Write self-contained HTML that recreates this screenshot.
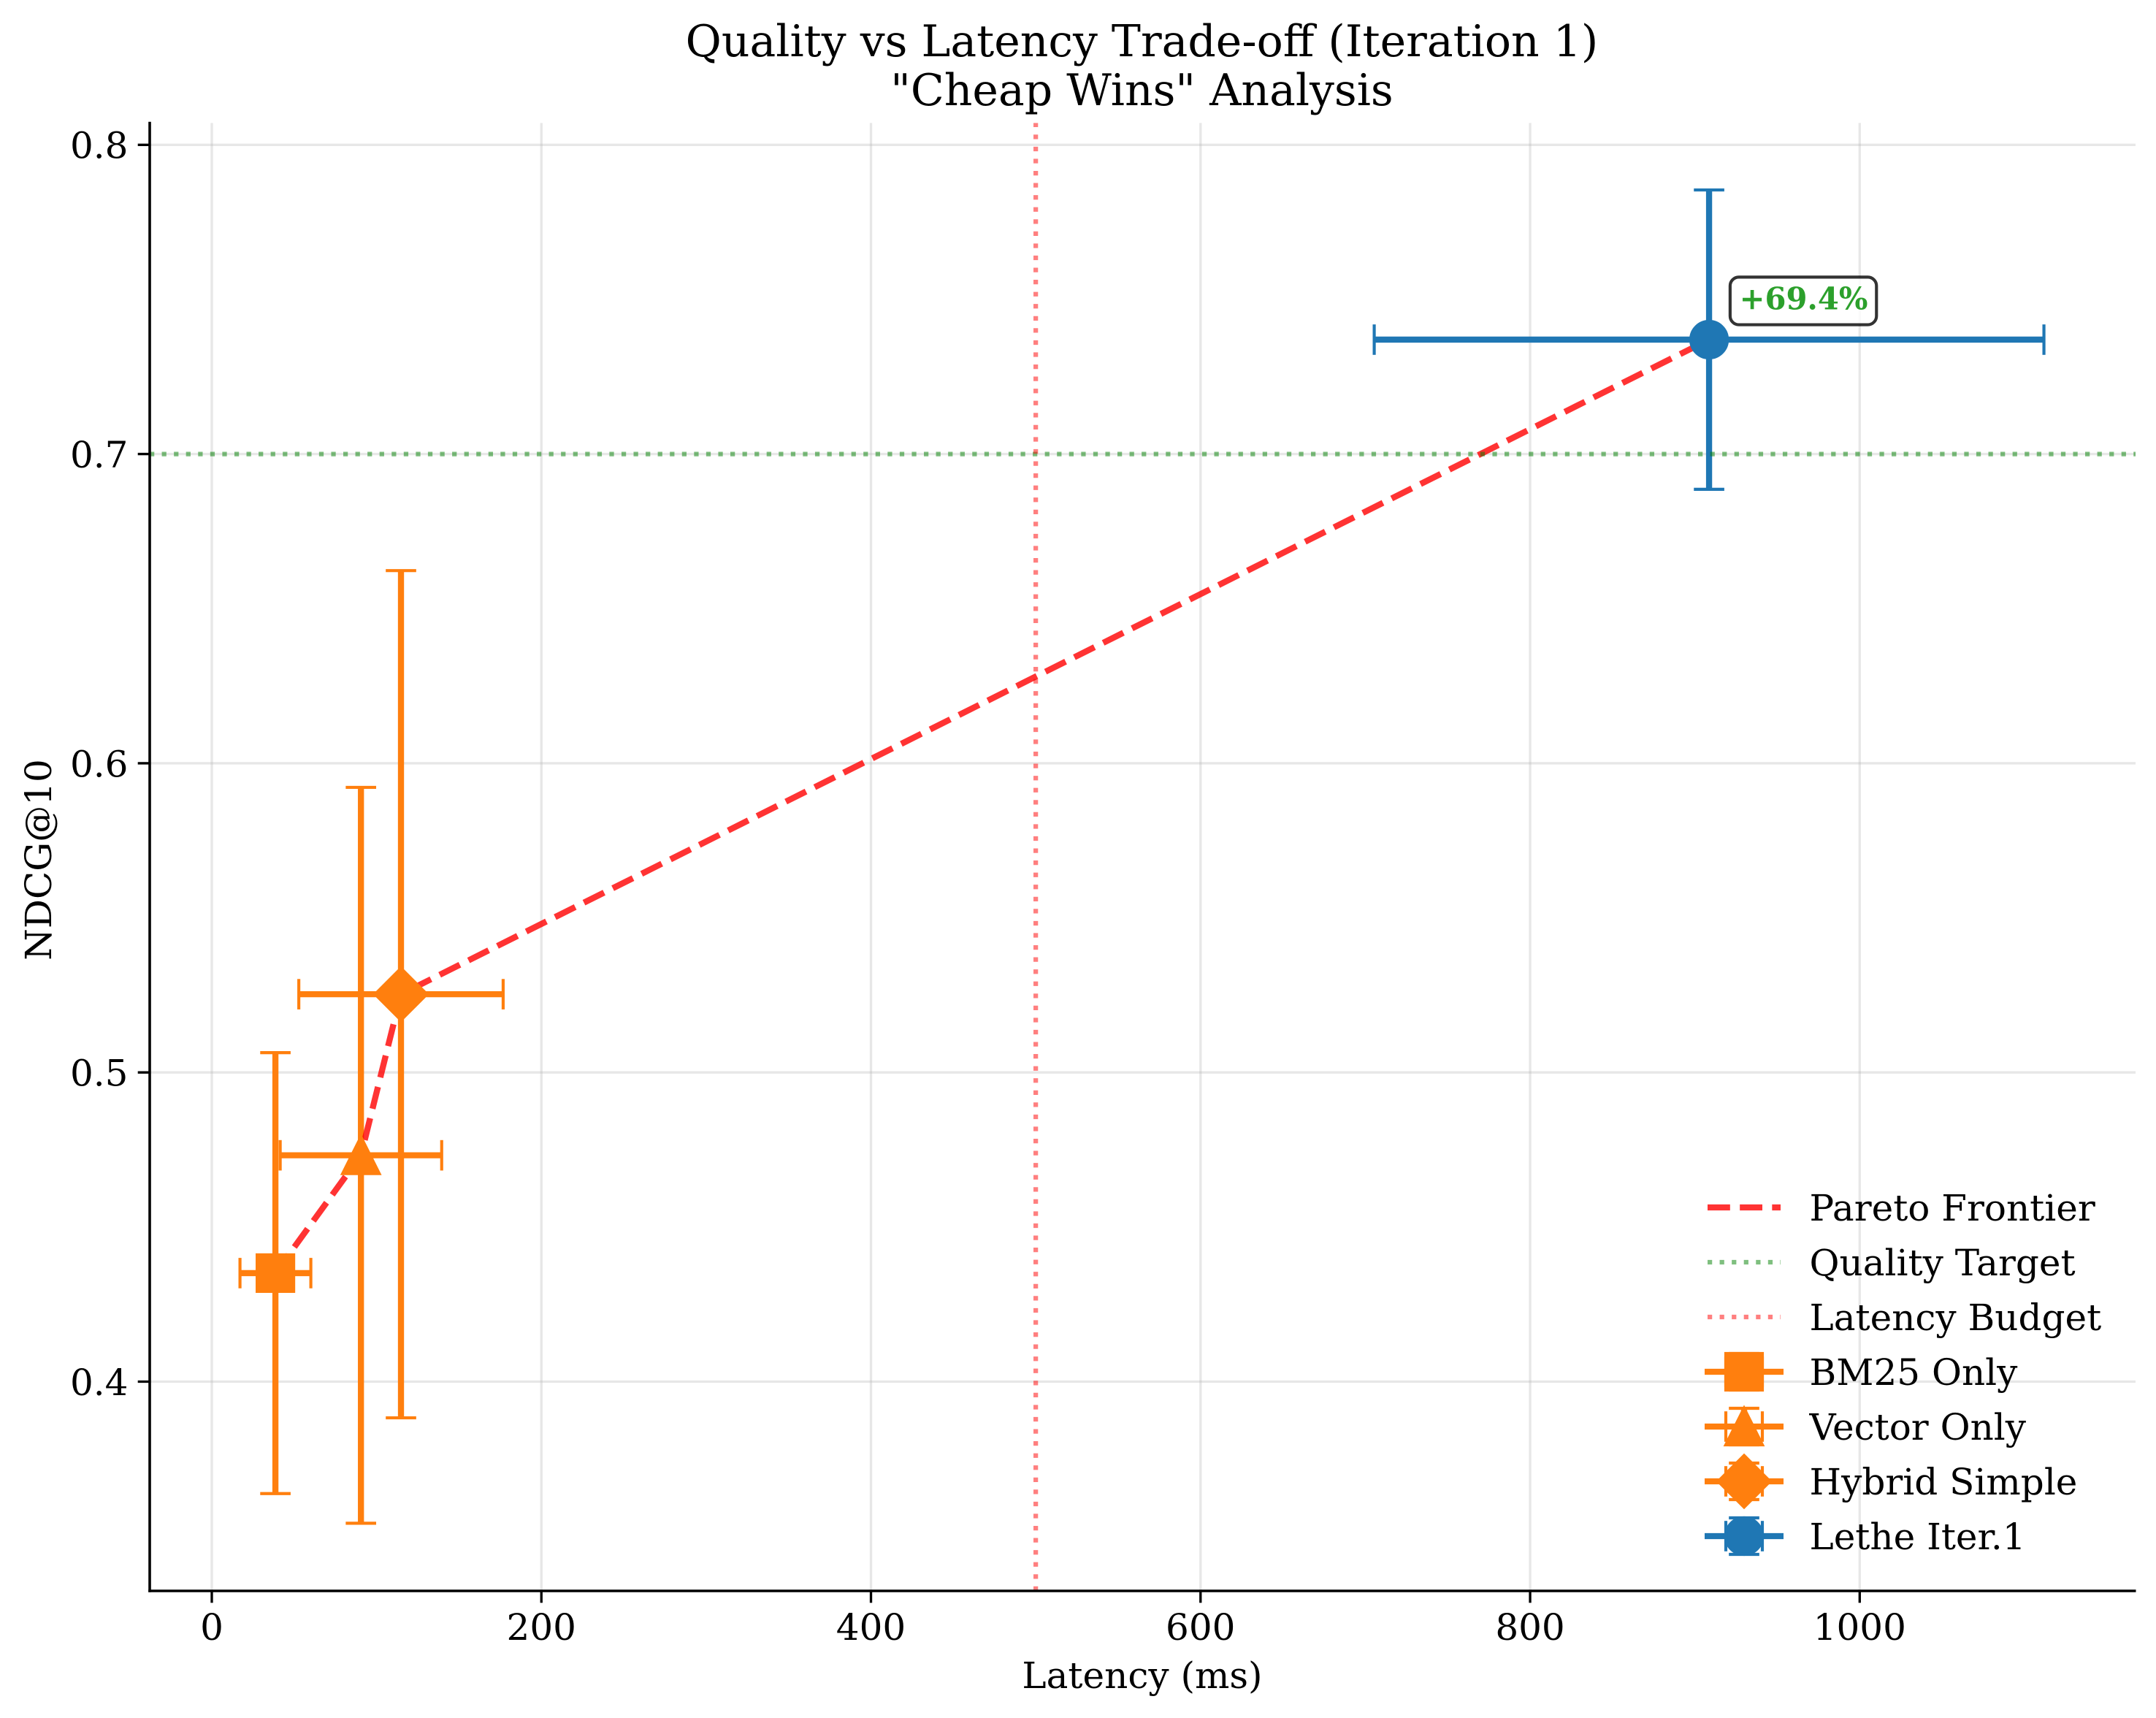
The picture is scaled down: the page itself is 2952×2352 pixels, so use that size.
<!DOCTYPE html>
<html lang="en">
<head>
<meta charset="utf-8">
<title>Quality vs Latency Trade-off</title>
<style>
html,body{margin:0;padding:0;background:#fff;}
svg{display:block;font-family:"DejaVu Serif","Liberation Serif",serif;}
text{fill:#000;}
</style>
</head>
<body>
<svg id="chart" xmlns="http://www.w3.org/2000/svg" width="2952" height="2352" viewBox="0 0 2952 2352">
  <rect x="0" y="0" width="2952" height="2352" fill="#ffffff"/>
  <g id="grid"></g>
  <g id="bars"></g>
  <g id="refs"></g>
  <g id="marks"></g>
  <g id="axes">
    <line x1="205" y1="166.7" x2="205" y2="2179.7" stroke="#000" stroke-width="3.6"/>
    <line x1="203.2" y1="2178" x2="2924.5" y2="2178" stroke="#000" stroke-width="3.6"/>
  </g>
  <g id="annotation"></g>
  <g id="legend">
    <text x="2477.5" y="1671" font-size="50">Pareto Frontier</text>
    <text x="2477.5" y="1746" font-size="50">Quality Target</text>
    <text x="2477.5" y="1821" font-size="50">Latency Budget</text>
    <text x="2477.5" y="1896" font-size="50">BM25 Only</text>
    <text x="2477.5" y="1971" font-size="50">Vector Only</text>
    <text x="2477.5" y="2046" font-size="50">Hybrid Simple</text>
    <text x="2477.5" y="2121" font-size="50">Lethe Iter.1</text>
  </g>
  <text x="1563.5" y="77" font-size="60" text-anchor="middle">Quality vs Latency Trade-off (Iteration 1)</text>
  <text x="1563.5" y="144" font-size="60" text-anchor="middle">"Cheap Wins" Analysis</text>
  <text x="1564" y="2311" font-size="50" text-anchor="middle">Latency (ms)</text>
  <text x="0" y="0" font-size="50" text-anchor="middle" transform="translate(70 1177) rotate(-90)">NDCG@10</text>
</svg>
<script>
const methods = ['BM25 Only', 'Vector Only', 'Hybrid Simple', 'Lethe Iter.1'];
const latency = [38.6, 90.5, 114.8, 908.6];
const latencyErr = [21.5, 49, 62, 203.2];
const ndcg = [0.4351, 0.4732, 0.5253, 0.737];
const ndcgErr = [0.0713, 0.119, 0.137, 0.0484];
const markerKinds = ['square', 'triangle', 'diamond', 'circle'];
const seriesColors = ['#ff7f0e', '#ff7f0e', '#ff7f0e', '#1f77b4'];
const xTicks = [0, 200, 400, 600, 800, 1000];
const xTickLabels = ['0', '200', '400', '600', '800', '1000'];
const yTicks = [0.4, 0.5, 0.6, 0.7, 0.8];
const yTickLabels = ['0.4', '0.5', '0.6', '0.7', '0.8'];
const qualityTarget = [0.7];
const latencyBudget = [500];
const improvementLabel = ['+69.4%'];

const NS = 'http://www.w3.org/2000/svg';
const plotLeft = 205, plotRight = 2924, plotTop = 168.4, plotBottom = 2178;
const xScale = 2.2563, xZero = 290;
const yScale = 4233, yRef = 1891.5;
function x(v) { return xZero + v * xScale; }
function y(v) { return yRef - (v - 0.4) * yScale; }

function add(parent, tag, attrs) {
  const el = document.createElementNS(NS, tag);
  for (const k in attrs) el.setAttribute(k, attrs[k]);
  parent.appendChild(el);
  return el;
}
const PT = 300 / 72;
const gridG = document.getElementById('grid');
const barsG = document.getElementById('bars');
const refsG = document.getElementById('refs');
const marksG = document.getElementById('marks');
const axesG = document.getElementById('axes');
const annG = document.getElementById('annotation');
const legendG = document.getElementById('legend');

function markerShape(parent, kind, cx, cy, color) {
  const s = 6 * PT, sw = PT;
  const base = { fill: color, stroke: color, 'stroke-width': sw, 'stroke-miterlimit': 10 };
  if (kind === 'circle') return add(parent, 'circle', Object.assign({ cx: cx, cy: cy, r: s }, base));
  if (kind === 'square') return add(parent, 'rect', Object.assign({ x: cx - s, y: cy - s, width: 2 * s, height: 2 * s }, base));
  if (kind === 'triangle') return add(parent, 'path', Object.assign({ d: `M${cx} ${cy - s}L${cx - s} ${cy + s}L${cx + s} ${cy + s}Z` }, base));
  const d = s * Math.SQRT2;
  return add(parent, 'path', Object.assign({ d: `M${cx} ${cy - d}L${cx + d} ${cy}L${cx} ${cy + d}L${cx - d} ${cy}Z` }, base));
}

/* grid + ticks */
xTicks.forEach((t, i) => {
  const g = add(gridG, 'line', { x1: x(t), x2: x(t), y1: plotTop, y2: plotBottom, stroke: '#b0b0b0', 'stroke-opacity': 0.3, 'stroke-width': 3.33 });
  
  
  const m = add(axesG, 'line', { x1: x(t), x2: x(t), y1: plotBottom, y2: plotBottom + 16.3, stroke: '#000', 'stroke-width': 3.33 });
  
  
  const l = add(axesG, 'text', { x: x(t), y: 2245, 'font-size': 50, 'text-anchor': 'middle' });
  l.textContent = xTickLabels[i];
  
  
});
yTicks.forEach((t, i) => {
  const g = add(gridG, 'line', { x1: plotLeft, x2: plotRight, y1: y(t), y2: y(t), stroke: '#b0b0b0', 'stroke-opacity': 0.3, 'stroke-width': 3.33 });
  
  
  const m = add(axesG, 'line', { x1: plotLeft - 16.3, x2: plotLeft, y1: y(t), y2: y(t), stroke: '#000', 'stroke-width': 3.33 });
  
  
  const l = add(axesG, 'text', { x: 175.5, y: y(t) + 18.4, 'font-size': 50, 'text-anchor': 'end' });
  l.textContent = yTickLabels[i];
  
  
});

/* error bar stems sit beneath the reference lines */
methods.forEach((name, i) => {
  const cx = x(latency[i]), cy = y(ndcg[i]), c = seriesColors[i];
  const h = add(barsG, 'line', { x1: x(latency[i] - latencyErr[i]), x2: x(latency[i] + latencyErr[i]), y1: cy, y2: cy, stroke: c, 'stroke-width': 2 * PT });
  
  
  const v = add(barsG, 'line', { x1: cx, x2: cx, y1: y(ndcg[i] - ndcgErr[i]), y2: y(ndcg[i] + ndcgErr[i]), stroke: c, 'stroke-width': 2 * PT });
  
  
});

/* Pareto frontier + reference lines */
const pareto = add(refsG, 'polyline', {
  points: latency.map((v, i) => x(v) + ',' + y(ndcg[i])).join(' '),
  fill: 'none', stroke: '#ff0000', 'stroke-opacity': 0.8, 'stroke-width': 2 * PT,
  'stroke-dasharray': (3.7 * 2 * PT) + ' ' + (1.6 * 2 * PT), 'stroke-linejoin': 'round'
});


const dotted = (1.5 * PT) + ' ' + (1.65 * 1.5 * PT);
const qLine = add(refsG, 'line', { x1: plotLeft, x2: plotRight, y1: y(qualityTarget[0]), y2: y(qualityTarget[0]), stroke: '#008000', 'stroke-opacity': 0.5, 'stroke-width': 1.5 * PT, 'stroke-dasharray': dotted });


const bLine = add(refsG, 'line', { x1: x(latencyBudget[0]), x2: x(latencyBudget[0]), y1: plotBottom, y2: plotTop, stroke: '#ff0000', 'stroke-opacity': 0.5, 'stroke-width': 1.5 * PT, 'stroke-dasharray': dotted });



/* caps and markers */
const capHalf = 5 * PT;
methods.forEach((name, i) => {
  const cx = x(latency[i]), cy = y(ndcg[i]), c = seriesColors[i];
  [latency[i] - latencyErr[i], latency[i] + latencyErr[i]].forEach(v => {
    const cap = add(marksG, 'line', { x1: x(v), x2: x(v), y1: cy - capHalf, y2: cy + capHalf, stroke: c, 'stroke-width': PT });
    
    
  });
  [ndcg[i] - ndcgErr[i], ndcg[i] + ndcgErr[i]].forEach(v => {
    const cap = add(marksG, 'line', { x1: cx - capHalf, x2: cx + capHalf, y1: y(v), y2: y(v), stroke: c, 'stroke-width': PT });
    
    
  });
  const mk = markerShape(marksG, markerKinds[i], cx, cy, c);
  
  
});

/* annotation anchored to the last series point */
const annX = x(latency[3]), annY = y(ndcg[3]);
const annBox = add(annG, 'rect', { x: annX + 28.8, y: annY - 85.6, width: 200.4, height: 65.2, rx: 12, ry: 12, fill: '#ffffff', 'fill-opacity': 0.8, stroke: '#000', 'stroke-opacity': 0.8, 'stroke-width': PT });


const annText = add(annG, 'text', { x: annX + 41.5, y: annY - 41.7, 'font-size': 41.67, 'font-weight': 'bold' });
annText.textContent = improvementLabel[0];
annText.style.fill = '#2ca02c';



/* legend handles */
const lgX = 2388, lgRows = [1653, 1728, 1803];
const lg1 = add(legendG, 'line', { x1: lgX - 50, x2: lgX + 50, y1: lgRows[0], y2: lgRows[0], stroke: '#ff0000', 'stroke-opacity': 0.8, 'stroke-width': 2 * PT, 'stroke-dasharray': (3.7 * 2 * PT) + ' ' + (1.6 * 2 * PT) });


const lg2 = add(legendG, 'line', { x1: lgX - 50, x2: lgX + 50, y1: lgRows[1], y2: lgRows[1], stroke: '#008000', 'stroke-opacity': 0.5, 'stroke-width': 1.5 * PT, 'stroke-dasharray': dotted });


const lg3 = add(legendG, 'line', { x1: lgX - 50, x2: lgX + 50, y1: lgRows[2], y2: lgRows[2], stroke: '#ff0000', 'stroke-opacity': 0.5, 'stroke-width': 1.5 * PT, 'stroke-dasharray': dotted });


methods.forEach((name, i) => {
  const cy = 1878 + 75 * i, c = seriesColors[i];
  const stem = add(legendG, 'line', { x1: lgX - 54, x2: lgX + 54, y1: cy, y2: cy, stroke: c, 'stroke-width': 2 * PT });
  
  
  const vs = add(legendG, 'line', { x1: lgX, x2: lgX, y1: cy - 25, y2: cy + 25, stroke: c, 'stroke-width': 2 * PT });
  
  
  [-25, 25].forEach(o => {
    const cv = add(legendG, 'line', { x1: lgX + o, x2: lgX + o, y1: cy - capHalf, y2: cy + capHalf, stroke: c, 'stroke-width': PT });
    
    
    const ch = add(legendG, 'line', { x1: lgX - capHalf, x2: lgX + capHalf, y1: cy + o, y2: cy + o, stroke: c, 'stroke-width': PT });
    
    
  });
  const mk = markerShape(legendG, markerKinds[i], lgX, cy, c);
  
  
});
</script>
</body>
</html>
